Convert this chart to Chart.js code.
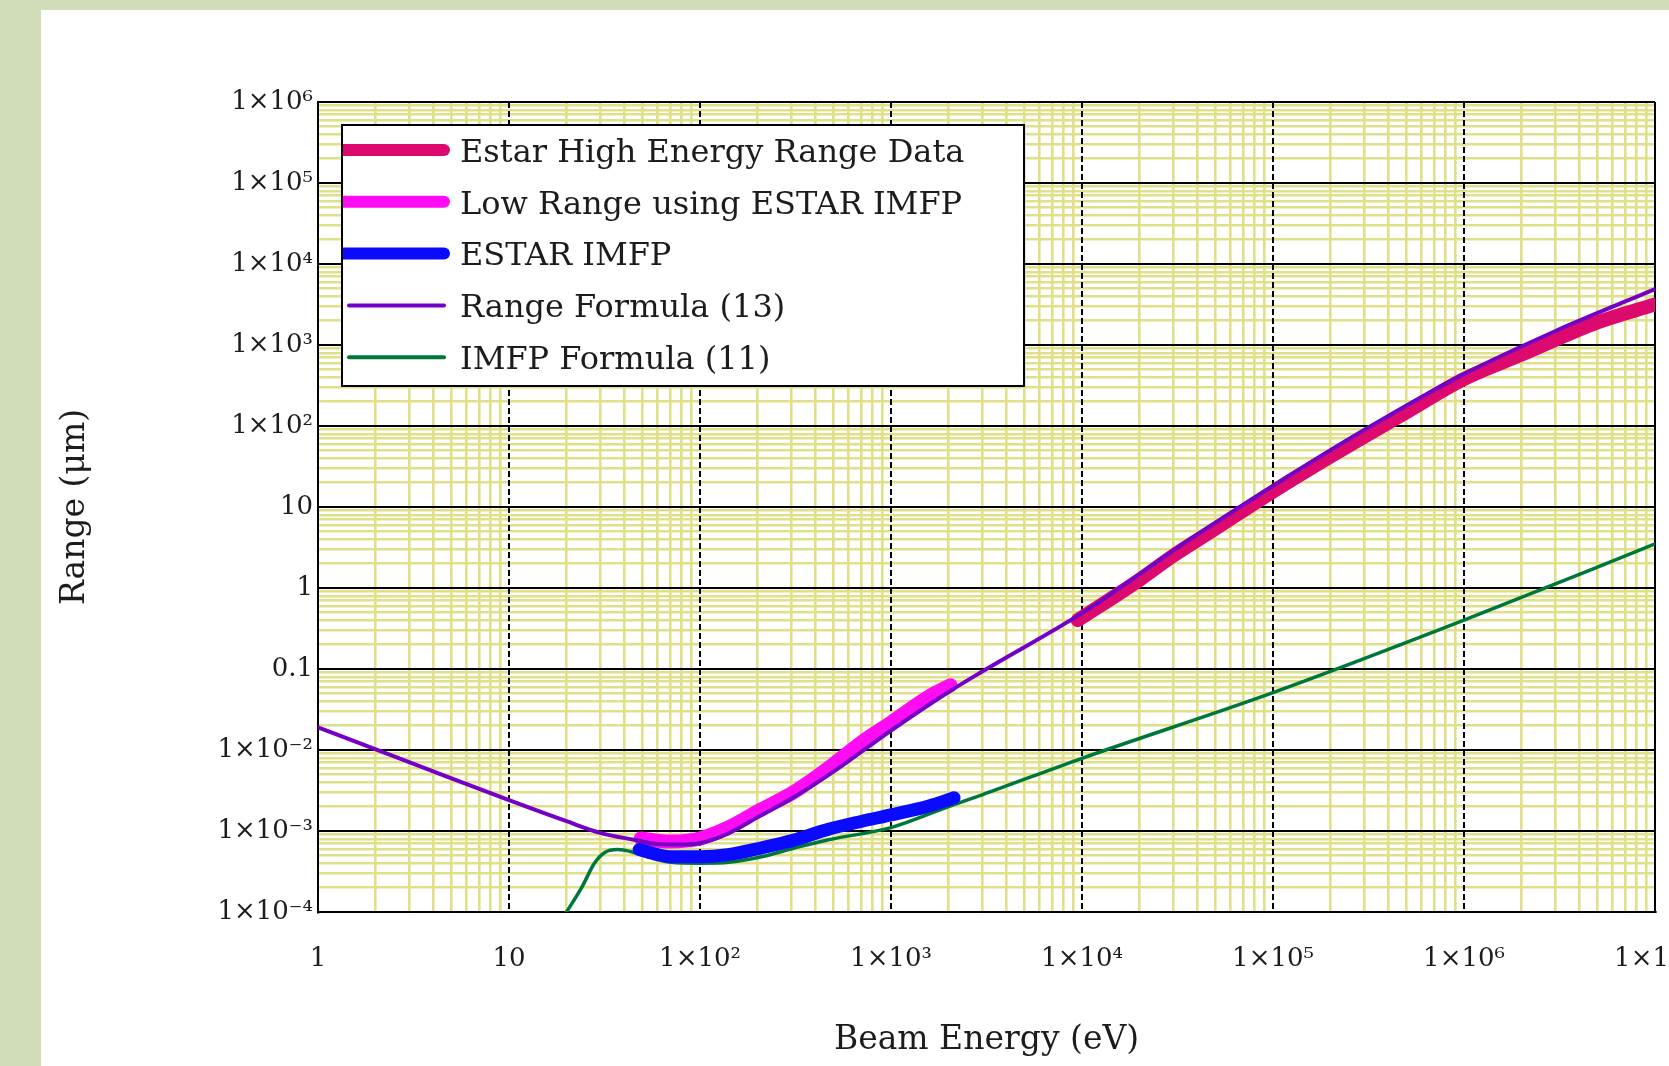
<!DOCTYPE html>
<html>
<head>
<meta charset="utf-8">
<title>Range vs Beam Energy</title>
<script src="https://cdn.jsdelivr.net/npm/chart.js@4.4.1/dist/chart.umd.min.js"></script>
<style>
  html, body { margin: 0; padding: 0; }
  body { width: 1669px; height: 1066px; background: #d1dcb8; position: relative; overflow: hidden; }
  #sheet { position: absolute; left: 41px; top: 10px; right: 0; bottom: 0; background: #fff; }
  #chart { position: absolute; left: 0; top: 0; }
</style>
</head>
<body>
<div id="sheet"></div>
<canvas id="chart" width="1669" height="1066"></canvas>
<script>
// values: beam energy (eV) and range (um)
var seriesLabels = [
  'Estar High Energy Range Data',
  'Low Range using ESTAR IMFP',
  'ESTAR IMFP',
  'Range Formula (13)',
  'IMFP Formula (11)'
];

var estarHighEnergy = [9500, 20000, 30000, 50000, 100000, 200000, 500000, 1000000, 2000000, 5000000, 10000000];
var estarHighRange  = [0.40, 1.26, 2.5, 5.4, 15.5, 42, 148, 380, 760, 1900, 3160];

var lowRangeEnergy = [49, 60, 71, 85, 100, 140, 210, 315, 470, 705, 1000, 1580, 2050];
var lowRangeRange  = [8.1e-4, 7.6e-4, 7.4e-4, 7.6e-4, 8.1e-4, 1.1e-3, 1.86e-3, 3.1e-3, 6.0e-3, 0.0126, 0.0219, 0.0457, 0.063];

var estarImfpEnergy = [48, 60, 71, 100, 140, 210, 315, 470, 705, 1000, 1580, 2140];
var estarImfpRange  = [5.9e-4, 5.1e-4, 4.8e-4, 4.8e-4, 5.1e-4, 6.2e-4, 7.8e-4, 1.05e-3, 1.32e-3, 1.58e-3, 2.04e-3, 2.57e-3];

var rangeFormulaEnergy = [1, 3, 10, 20, 30, 45, 60, 80, 100, 140, 200, 300, 500, 1000, 2000, 3000, 1e4, 2e4, 3e4, 1e5, 3e5, 1e6, 3e6, 1e7];
var rangeFormulaRange  = [0.019, 0.0071, 0.0024, 0.00132, 0.00095, 0.00078, 0.00069, 0.00068, 0.00071, 0.00093, 0.00148, 0.0025, 0.0054, 0.0174, 0.052, 0.093, 0.49, 1.48, 2.9, 18.2, 89, 437, 1480, 4900];

var imfpFormulaEnergy = [18, 20, 24, 28, 31.6, 37, 45.7, 54, 71, 100, 141, 210, 315, 470, 1000, 2000, 3000, 1e4, 1e5, 1e6, 1e7];
var imfpFormulaRange  = [6.8e-5, 1.0e-4, 2.0e-4, 4.0e-4, 5.4e-4, 5.9e-4, 5.4e-4, 4.8e-4, 4.1e-4, 4.0e-4, 4.1e-4, 4.8e-4, 6.2e-4, 7.8e-4, 1.1e-3, 2.0e-3, 2.8e-3, 7.9e-3, 0.051, 0.40, 3.5];

var xTickValues = [1, 10, 100, 1e3, 1e4, 1e5, 1e6, 1e7];
var xTickLabels = ['1', '10', '1\u00d710\u00b2', '1\u00d710\u00b3', '1\u00d710\u2074', '1\u00d710\u2075', '1\u00d710\u2076', '1\u00d710\u2077'];
var yTickValues = [1e-4, 1e-3, 1e-2, 0.1, 1, 10, 100, 1e3, 1e4, 1e5, 1e6];
var yTickLabels = ['1\u00d710\u207b\u2074', '1\u00d710\u207b\u00b3', '1\u00d710\u207b\u00b2', '0.1', '1', '10',
                   '1\u00d710\u00b2', '1\u00d710\u00b3', '1\u00d710\u2074', '1\u00d710\u2075', '1\u00d710\u2076'];

var xTitle = 'Beam Energy (eV)';
var yTitle = 'Range (\u03bcm)';

var fontFamily = '"DejaVu Serif", "Liberation Serif", serif';
var ink = '#1c1c1c';
var minorGrid = 'rgb(224,224,136)';

var legendBox = { left: 342, top: 125, right: 1024, bottom: 386, firstRow: 150, rowStep: 51.8, textX: 460 };

function pairs(xs, ys) {
  return xs.map(function (x, i) { return { x: x, y: ys[i] }; });
}

// decades plus the 2..9 steps between them, for the light grid
function withMinors(decades) {
  var out = [];
  for (var i = 0; i < decades.length; i++) {
    out.push(decades[i]);
    if (i < decades.length - 1) {
      var p = Math.round(Math.log10(decades[i]));
      for (var k = 2; k <= 9; k++) out.push(Number(k + 'e' + p));
    }
  }
  return out;
}

function isDecade(v) {
  var l = Math.log10(v);
  return Math.abs(l - Math.round(l)) < 1e-6;
}

function labelFor(values, labels, v) {
  for (var i = 0; i < values.length; i++) {
    if (Math.abs(values[i] - v) <= values[i] * 1e-9) return labels[i];
  }
  return '';
}

function asTicks(values) {
  return values.map(function (v) { return { value: v }; });
}

var boxedLegend = {
  id: 'boxedLegend',
  afterDatasetsDraw: function (chart) {
    var ctx = chart.ctx;
    var w = legendBox.right - legendBox.left, h = legendBox.bottom - legendBox.top;
    ctx.save();
    ctx.fillStyle = '#fff';
    ctx.fillRect(legendBox.left, legendBox.top, w, h);
    ctx.lineWidth = 2;
    ctx.strokeStyle = '#000';
    ctx.strokeRect(legendBox.left, legendBox.top, w, h);
    chart.data.datasets.forEach(function (ds, i) {
      var y = legendBox.firstRow + i * legendBox.rowStep;
      var thick = ds.borderWidth > 6;
      ctx.save();
      ctx.beginPath();
      ctx.rect(legendBox.left + 1, legendBox.top, w, h);
      ctx.clip();
      ctx.strokeStyle = ds.borderColor;
      ctx.lineWidth = thick ? 12 : 4;
      ctx.lineCap = 'round';
      ctx.beginPath();
      ctx.moveTo(thick ? 336 : 349, y);
      ctx.lineTo(444, y);
      ctx.stroke();
      ctx.restore();
      ctx.fillStyle = ink;
      ctx.font = '32px ' + fontFamily;
      ctx.textAlign = 'left';
      ctx.textBaseline = 'alphabetic';
      ctx.fillText(ds.label, legendBox.textX, y + 11.7);
    });
    ctx.restore();
  }
};

Chart.defaults.font.family = fontFamily;

new Chart(document.getElementById('chart'), {
  type: 'line',
  data: {
    datasets: [
      { label: seriesLabels[0], data: pairs(estarHighEnergy, estarHighRange), borderColor: '#dc0a6e', borderWidth: 14, order: 4 },
      { label: seriesLabels[1], data: pairs(lowRangeEnergy, lowRangeRange), borderColor: '#ff0cf5', borderWidth: 14, order: 3 },
      { label: seriesLabels[2], data: pairs(estarImfpEnergy, estarImfpRange), borderColor: '#0a0aff', borderWidth: 13, order: 2 },
      { label: seriesLabels[3], data: pairs(rangeFormulaEnergy, rangeFormulaRange), borderColor: '#7400c6', borderWidth: 4, order: 1 },
      { label: seriesLabels[4], data: pairs(imfpFormulaEnergy, imfpFormulaRange), borderColor: '#00773a', borderWidth: 3.5, order: 5 }
    ].map(function (ds) {
      ds.xAxisID = 'x';
      ds.yAxisID = 'y';
      ds.pointRadius = 0;
      ds.fill = false;
      ds.borderCapStyle = 'round';
      ds.borderJoinStyle = 'round';
      ds.cubicInterpolationMode = 'monotone';
      return ds;
    })
  },
  options: {
    responsive: false,
    devicePixelRatio: 1,
    animation: false,
    events: [],
    layout: { padding: { left: 0, top: 102, right: 14, bottom: 0 } },
    plugins: { legend: { display: false }, tooltip: { enabled: false } },
    scales: {
      x: {
        type: 'logarithmic', axis: 'x', position: 'bottom', min: 1, max: 1e7,
        afterBuildTicks: function (s) { s.ticks = asTicks(withMinors(xTickValues)); },
        afterFit: function (s) { s.height = 154; s.paddingLeft = 0; s.paddingRight = 0; },
        grid: {
          color: function (c) { return c.tick && !isDecade(c.tick.value) ? minorGrid : 'rgba(0,0,0,0)'; },
          lineWidth: 2.6, drawTicks: false, z: -2
        },
        border: { color: '#000', width: 2 },
        ticks: {
          autoSkip: false, maxRotation: 0, minRotation: 0, padding: 32, color: ink,
          font: { family: fontFamily, size: 26 },
          callback: function (v) { return labelFor(xTickValues, xTickLabels, v); }
        },
        title: { display: true, text: xTitle, color: ink, font: { family: fontFamily, size: 33 }, padding: { top: 0, bottom: 6 } }
      },
      y: {
        type: 'logarithmic', axis: 'y', position: 'left', min: 1e-4, max: 1e6,
        afterBuildTicks: function (s) { s.ticks = asTicks(withMinors(yTickValues)); },
        afterFit: function (s) { s.width = 318; s.paddingTop = 0; s.paddingBottom = 0; },
        grid: {
          color: function (c) { return c.tick && !isDecade(c.tick.value) ? minorGrid : 'rgba(0,0,0,0)'; },
          lineWidth: 2.6, drawTicks: false, z: -2
        },
        border: { color: '#000', width: 2 },
        ticks: {
          autoSkip: false, padding: 5, color: ink,
          font: { family: fontFamily, size: 26 },
          callback: function (v) { return labelFor(yTickValues, yTickLabels, v); }
        },
        title: { display: true, text: yTitle, color: ink, font: { family: fontFamily, size: 33 }, padding: { top: 56, bottom: 0 } }
      },
      xMajor: {
        type: 'logarithmic', axis: 'x', position: 'bottom', min: 1, max: 1e7,
        afterBuildTicks: function (s) { s.ticks = asTicks(xTickValues); },
        afterFit: function (s) { s.height = 0; s.paddingLeft = 0; s.paddingRight = 0; },
        grid: { color: '#000', lineWidth: 2, drawTicks: false, z: -1 },
        border: {
          display: false,
          dash: function (c) { return c.tick && c.tick.value > 1 && c.tick.value < 1e7 ? [6, 3] : []; }
        },
        ticks: { display: false }
      },
      yMajor: {
        type: 'logarithmic', axis: 'y', position: 'left', min: 1e-4, max: 1e6,
        afterBuildTicks: function (s) { s.ticks = asTicks(yTickValues); },
        afterFit: function (s) { s.width = 0; s.paddingTop = 0; s.paddingBottom = 0; },
        grid: { color: '#000', lineWidth: 2, drawTicks: false, z: -1 },
        border: { display: false },
        ticks: { display: false }
      }
    }
  },
  plugins: [boxedLegend]
});
</script>
</body>
</html>
